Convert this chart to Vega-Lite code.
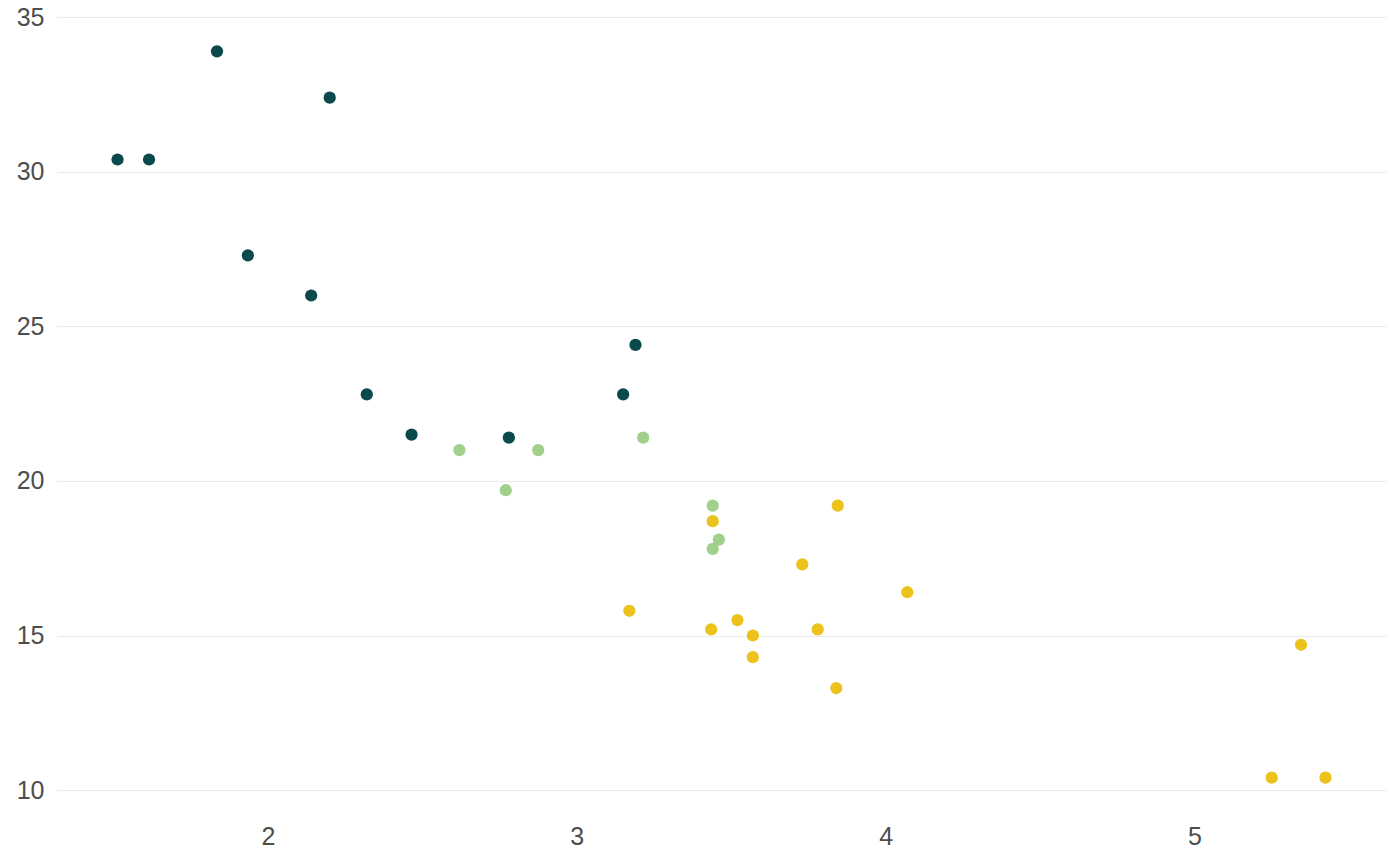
{
  "$schema": "https://vega.github.io/schema/vega-lite/v6.json",
  "width": 1329,
  "height": 799,
  "autosize": "none",
  "padding": {"left": 57, "top": 15, "right": 14, "bottom": 52},
  "background": "white",
  "data": {
    "values": [
      {"car": "Mazda RX4", "mpg": 21.0, "cyl": 6, "wt": 2.620},
      {"car": "Mazda RX4 Wag", "mpg": 21.0, "cyl": 6, "wt": 2.875},
      {"car": "Datsun 710", "mpg": 22.8, "cyl": 4, "wt": 2.320},
      {"car": "Hornet 4 Drive", "mpg": 21.4, "cyl": 6, "wt": 3.215},
      {"car": "Hornet Sportabout", "mpg": 18.7, "cyl": 8, "wt": 3.440},
      {"car": "Valiant", "mpg": 18.1, "cyl": 6, "wt": 3.460},
      {"car": "Duster 360", "mpg": 14.3, "cyl": 8, "wt": 3.570},
      {"car": "Merc 240D", "mpg": 24.4, "cyl": 4, "wt": 3.190},
      {"car": "Merc 230", "mpg": 22.8, "cyl": 4, "wt": 3.150},
      {"car": "Merc 280", "mpg": 19.2, "cyl": 6, "wt": 3.440},
      {"car": "Merc 280C", "mpg": 17.8, "cyl": 6, "wt": 3.440},
      {"car": "Merc 450SE", "mpg": 16.4, "cyl": 8, "wt": 4.070},
      {"car": "Merc 450SL", "mpg": 17.3, "cyl": 8, "wt": 3.730},
      {"car": "Merc 450SLC", "mpg": 15.2, "cyl": 8, "wt": 3.780},
      {"car": "Cadillac Fleetwood", "mpg": 10.4, "cyl": 8, "wt": 5.250},
      {"car": "Lincoln Continental", "mpg": 10.4, "cyl": 8, "wt": 5.424},
      {"car": "Chrysler Imperial", "mpg": 14.7, "cyl": 8, "wt": 5.345},
      {"car": "Fiat 128", "mpg": 32.4, "cyl": 4, "wt": 2.200},
      {"car": "Honda Civic", "mpg": 30.4, "cyl": 4, "wt": 1.615},
      {"car": "Toyota Corolla", "mpg": 33.9, "cyl": 4, "wt": 1.835},
      {"car": "Toyota Corona", "mpg": 21.5, "cyl": 4, "wt": 2.465},
      {"car": "Dodge Challenger", "mpg": 15.5, "cyl": 8, "wt": 3.520},
      {"car": "AMC Javelin", "mpg": 15.2, "cyl": 8, "wt": 3.435},
      {"car": "Camaro Z28", "mpg": 13.3, "cyl": 8, "wt": 3.840},
      {"car": "Pontiac Firebird", "mpg": 19.2, "cyl": 8, "wt": 3.845},
      {"car": "Fiat X1-9", "mpg": 27.3, "cyl": 4, "wt": 1.935},
      {"car": "Porsche 914-2", "mpg": 26.0, "cyl": 4, "wt": 2.140},
      {"car": "Lotus Europa", "mpg": 30.4, "cyl": 4, "wt": 1.513},
      {"car": "Ford Pantera L", "mpg": 15.8, "cyl": 8, "wt": 3.170},
      {"car": "Ferrari Dino", "mpg": 19.7, "cyl": 6, "wt": 2.770},
      {"car": "Maserati Bora", "mpg": 15.0, "cyl": 8, "wt": 3.570},
      {"car": "Volvo 142E", "mpg": 21.4, "cyl": 4, "wt": 2.780}
    ]
  },
  "mark": {"type": "circle", "size": 150, "opacity": 1},
  "encoding": {
    "x": {
      "field": "wt",
      "type": "quantitative",
      "scale": {"domain": [1.317, 5.620], "nice": false, "zero": false},
      "axis": {
        "title": null,
        "values": [2, 3, 4, 5],
        "grid": false,
        "domain": false,
        "ticks": false,
        "labelPadding": 10,
        "labelFontSize": 25,
        "labelFont": "Liberation Sans",
        "labelColor": "#4d4d4d"
      }
    },
    "y": {
      "field": "mpg",
      "type": "quantitative",
      "scale": {"domain": [9.225, 35.075], "nice": false, "zero": false},
      "axis": {
        "title": null,
        "values": [10, 15, 20, 25, 30, 35],
        "grid": true,
        "gridColor": "#ebebeb",
        "gridWidth": 1,
        "domain": false,
        "ticks": false,
        "labelPadding": 13,
        "labelFontSize": 25,
        "labelFont": "Liberation Sans",
        "labelColor": "#4d4d4d"
      }
    },
    "color": {
      "field": "cyl",
      "type": "nominal",
      "scale": {"domain": [4, 6, 8], "range": ["#0b4a4c", "#a0d08c", "#ebc31c"]},
      "legend": null
    }
  },
  "config": {"view": {"stroke": null}}
}
